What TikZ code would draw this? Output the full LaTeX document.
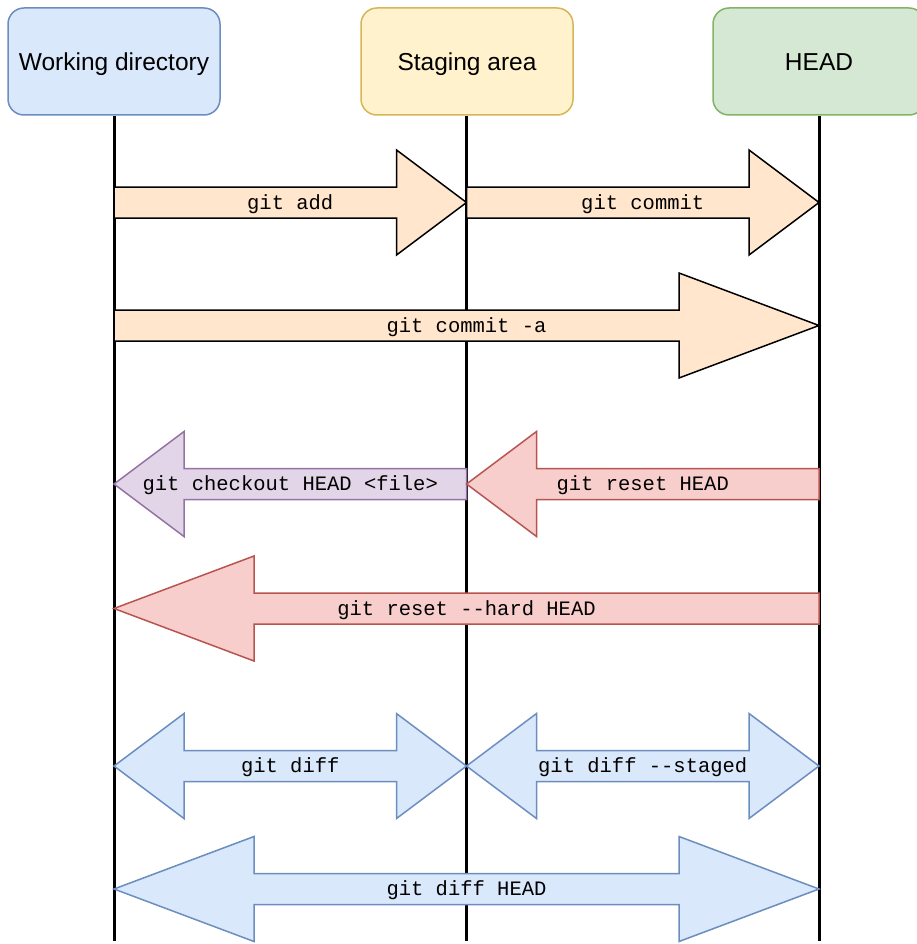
\documentclass[tikz,border=0pt]{standalone}
\usepackage{fontspec}
\setmainfont{Liberation Sans}
\setmonofont{Liberation Mono}

\definecolor{bluefill}{HTML}{DAE8FC}
\definecolor{blueline}{HTML}{6C8EBF}
\definecolor{yellowfill}{HTML}{FFF2CC}
\definecolor{yellowline}{HTML}{D6B656}
\definecolor{greenfill}{HTML}{D5E8D4}
\definecolor{greenline}{HTML}{82B366}
\definecolor{orangefill}{HTML}{FFE6CC}
\definecolor{purplefill}{HTML}{E1D5E7}
\definecolor{purpleline}{HTML}{9673A6}
\definecolor{redfill}{HTML}{F8CECC}
\definecolor{redline}{HTML}{B85450}

\tikzset{
  area/.style={draw, rounded corners=16pt, line width=1.5pt, minimum width=212pt,
    minimum height=107pt, text height=17.5pt, text depth=0pt,
    font=\fontsize{24.5}{29}\selectfont},
  lifeline/.style={line width=3pt},
  cmd/.style={font=\ttfamily\fontsize{20.5}{24}\selectfont, inner sep=0pt,
    text height=13pt, text depth=0pt},
  addarrow/.style={fill=orangefill, draw=black, line width=1.5pt},
  checkoutarrow/.style={fill=purplefill, draw=purpleline, line width=1.5pt},
  resetarrow/.style={fill=redfill, draw=redline, line width=1.5pt},
  diffarrow/.style={fill=bluefill, draw=blueline, line width=1.5pt}
}

% block arrows: style, from x, to x, y, head length, name, label
\newcommand{\rightblock}[7]{%
  \draw[#1] (#2,#4-15.5) -- (#3-#5,#4-15.5) -- (#3-#5,#4-52.5) -- (#3,#4)
    -- (#3-#5,#4+52.5) -- (#3-#5,#4+15.5) -- (#2,#4+15.5) -- cycle;
  \node[cmd] (#6) at ({(#2+#3)/2},#4) {#7};}
\newcommand{\leftblock}[7]{%
  \draw[#1] (#3,#4-15.5) -- (#2+#5,#4-15.5) -- (#2+#5,#4-52.5) -- (#2,#4)
    -- (#2+#5,#4+52.5) -- (#2+#5,#4+15.5) -- (#3,#4+15.5) -- cycle;
  \node[cmd] (#6) at ({(#2+#3)/2},#4) {#7};}
\newcommand{\bothblock}[7]{%
  \draw[#1] (#2,#4) -- (#2+#5,#4-52.5) -- (#2+#5,#4-15.5) -- (#3-#5,#4-15.5)
    -- (#3-#5,#4-52.5) -- (#3,#4) -- (#3-#5,#4+52.5) -- (#3-#5,#4+15.5)
    -- (#2+#5,#4+15.5) -- (#2+#5,#4+52.5) -- cycle;
  \node[cmd] (#6) at ({(#2+#3)/2},#4) {#7};}

\begin{document}
\begin{tikzpicture}[x=1pt,y=-1pt]
    \useasboundingbox (0,0) rectangle (917,944);

    % the three areas and their lifelines
    \node[area, fill=bluefill, draw=blueline] (wd) at (114,61.5) {Working directory};
    \node[area, fill=yellowfill, draw=yellowline] (stage) at (467,61.5) {Staging area};
    \node[area, fill=greenfill, draw=greenline] (head) at (819,61.5) {HEAD};
    \coordinate (wd-end) at (114,941);
    \coordinate (stage-end) at (466.5,941);
    \coordinate (head-end) at (819,941);
    \draw[lifeline] (wd.south) -- (wd-end);
    \draw[lifeline] (stage.south -| stage-end) -- (stage-end);
    \draw[lifeline] (head.south) -- (head-end);

    % moving changes forward
    \rightblock{addarrow}{114}{466.5}{202.5}{70}{add}{git add}
    \rightblock{addarrow}{466.5}{819}{202.5}{70}{commit}{git commit}
    \rightblock{addarrow}{114}{819}{325.5}{140}{commita}{git commit -a}

    % moving changes back
    \leftblock{checkoutarrow}{114}{466.5}{484}{70}{checkout}{git checkout HEAD <file>}
    \leftblock{resetarrow}{466.5}{819}{484}{70}{reset}{git reset HEAD}
    \leftblock{resetarrow}{114}{819}{608.5}{140}{hard}{git reset --hard HEAD}

    % comparing
    \bothblock{diffarrow}{114}{466.5}{766}{70}{diff}{git diff}
    \bothblock{diffarrow}{466.5}{819}{766}{70}{staged}{git diff --staged}
    \bothblock{diffarrow}{114}{819}{889}{140}{diffhead}{git diff HEAD}
\end{tikzpicture}
\end{document}
